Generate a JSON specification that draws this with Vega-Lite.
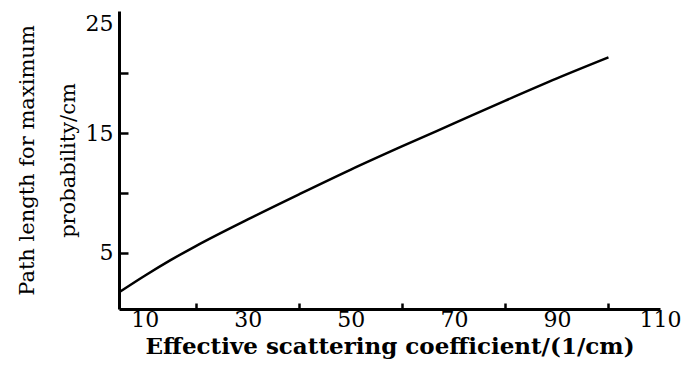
{
  "$schema": "https://vega.github.io/schema/vega-lite/v6.json",
  "autosize": "none",
  "width": 541,
  "height": 298,
  "padding": {"left": 119, "top": 11, "right": 36, "bottom": 58},
  "background": "white",
  "config": {
    "view": {"stroke": null},
    "axis": {"labelFont": "DejaVu Serif", "titleFont": "DejaVu Serif", "labelColor": "black", "titleColor": "black", "domainColor": "black", "tickColor": "black", "grid": false}
  },
  "data": {
    "values": [
      {"mu": 5.3, "path": 1.8},
      {"mu": 10, "path": 3.1},
      {"mu": 15, "path": 4.4},
      {"mu": 20, "path": 5.6},
      {"mu": 30, "path": 7.8},
      {"mu": 40, "path": 9.9},
      {"mu": 50, "path": 11.95},
      {"mu": 60, "path": 13.9},
      {"mu": 70, "path": 15.8},
      {"mu": 80, "path": 17.7},
      {"mu": 90, "path": 19.55},
      {"mu": 100, "path": 21.3}
    ]
  },
  "mark": {"type": "line", "color": "black", "strokeWidth": 2.5, "interpolate": "monotone"},
  "encoding": {
    "x": {
      "field": "mu", "type": "quantitative",
      "scale": {"domain": [5, 110], "nice": false, "zero": false},
      "axis": {
        "title": "Effective scattering coefficient/(1/cm)",
        "titleFontSize": 23, "titleFontWeight": "bold", "titlePadding": 5,
        "values": [10, 20, 30, 40, 50, 60, 70, 80, 90, 100, 110],
        "labelExpr": "datum.value % 20 == 10 ? datum.label : ''",
        "labelFontSize": 22, "labelFlush": false, "labelOverlap": false,
        "labelPadding": 6,
        "tickSize": -6, "tickWidth": 2.5,
        "tickOpacity": {"condition": {"test": "datum.value % 20 == 0", "value": 1}, "value": 0},
        "domainWidth": 3
      }
    },
    "y": {
      "field": "path", "type": "quantitative",
      "scale": {"domain": [0.33, 25.17], "nice": false, "zero": false},
      "axis": {
        "title": ["Path length for maximum", "probability/cm"],
        "titleFontSize": 21, "titleFontWeight": "normal", "titleLineHeight": 41, "titlePadding": 7,
        "values": [5, 10, 15, 20, 25],
        "labelExpr": "datum.value % 10 == 5 ? datum.label : ''",
        "labelFontSize": 22, "labelFlush": 4, "labelOverlap": false,
        "labelPadding": 15,
        "tickSize": -9, "tickWidth": 2.5,
        "tickOpacity": {"condition": {"test": "datum.value < 25", "value": 1}, "value": 0},
        "domainWidth": 3
      }
    }
  }
}
